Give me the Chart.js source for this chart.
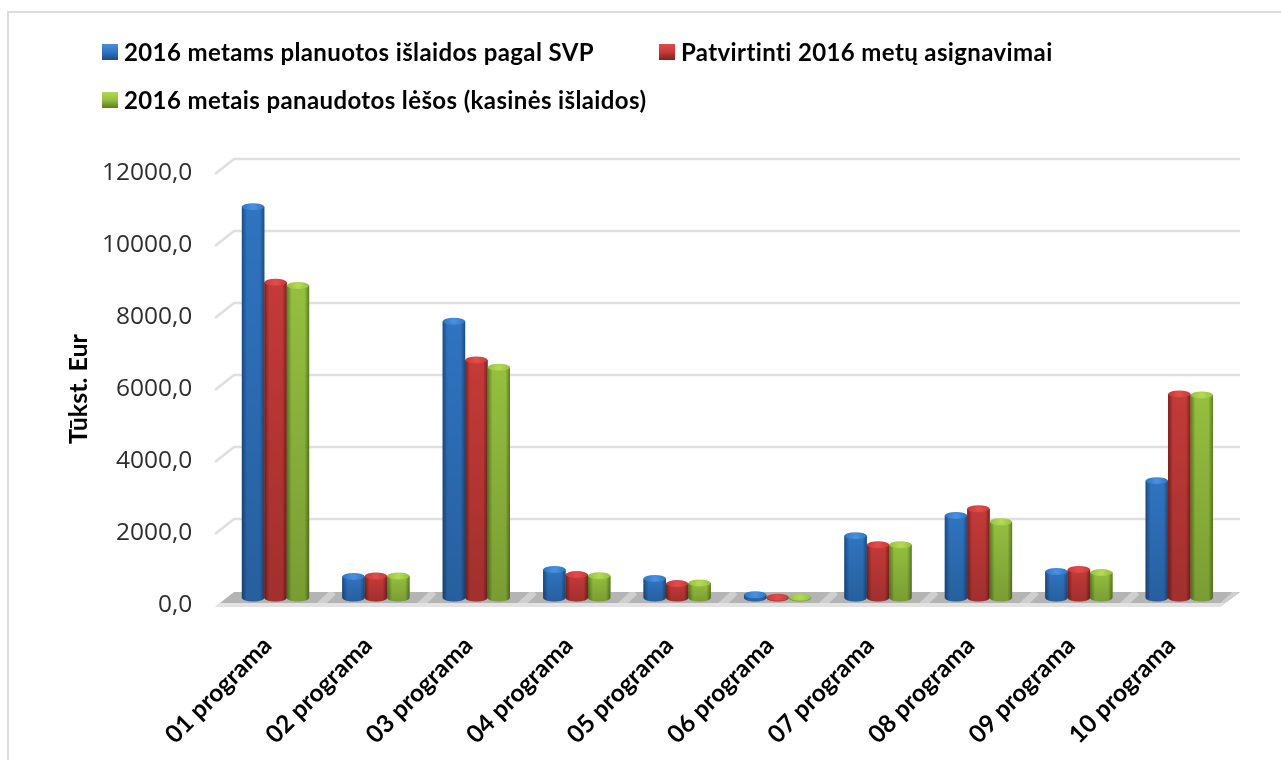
<!DOCTYPE html>
<html lang="lt">
<head>
<meta charset="UTF-8">
<title>2016 programos</title>
<script src="https://cdn.jsdelivr.net/npm/chart.js@4.4.0/dist/chart.umd.min.js"></script>
<style>
  html, body { margin: 0; background: #fff; overflow: hidden; }
  #page { position: relative; width: 1281px; height: 760px; overflow: hidden; }
  #frame { position: absolute; left: 7px; top: 11px; width: 1290px; height: 770px; border: 2.5px solid #dcdcdc; }
  #chartBox { position: absolute; left: 0; top: 0; width: 1281px; height: 760px; }
  .leg { position: absolute; font: bold 24px Lato, sans-serif; letter-spacing: .38px; color: #000; white-space: nowrap; line-height: 26px; }
  .sw { position: absolute; width: 16px; height: 16px; }
</style>
</head>
<body>
<div id="page">
  <div id="frame"></div>
  <div id="chartBox"><canvas id="chart"></canvas></div>
  <div id="legend"></div>
</div>
<script>
const categories = ['01 programa', '02 programa', '03 programa', '04 programa', '05 programa',
                    '06 programa', '07 programa', '08 programa', '09 programa', '10 programa'];
const planuotos = [10870, 600, 7690, 790, 540, 90, 1730, 2290, 735, 3260];
const patvirtinti = [8770, 610, 6610, 650, 400, 20, 1480, 2480, 790, 5670];
const panaudotos = [8680, 610, 6410, 620, 420, 20, 1480, 2120, 705, 5640];
const seriesNames = ['2016 metams planuotos išlaidos pagal SVP', 'Patvirtinti 2016 metų asignavimai',
                     '2016 metais panaudotos lėšos (kasinės išlaidos)'];
const yTicks = ['0,0', '2000,0', '4000,0', '6000,0', '8000,0', '10000,0', '12000,0'];
const yTitle = 'Tūkst. Eur';

// edge, middle, cap colours of the cylinders
const blue = ['#1d4c84', '#2f74c0', '#4a90e0'];
const red = ['#7a2220', '#c43a38', '#e24c4a'];
const green = ['#5c7c24', '#94bf3e', '#b4d954'];

// legend
const legendSpots = [[102, 52, blue], [659, 52, red], [102, 100, green]];
const legendBox = document.getElementById('legend');
seriesNames.forEach((name, i) => {
    const [x, y, c] = legendSpots[i];
    const sw = document.createElement('div');
    sw.className = 'sw';
    sw.style.left = x + 'px';
    sw.style.top = (y - 8) + 'px';
    sw.style.background = `linear-gradient(180deg, ${c[2]}, ${c[1]} 50%, ${c[0]})`;
    legendBox.appendChild(sw);
    const t = document.createElement('div');
    t.className = 'leg';
    t.style.left = (x + 22) + 'px';
    t.style.top = (y - 13) + 'px';
    t.textContent = name;
    legendBox.appendChild(t);
});

const palette = [blue, red, green];

// floor and the slanted grid lines of the 3D look
const backdrop = {
    id: 'backdrop',
    beforeDatasetsDraw(chart) {
        const { ctx, scales: { x, y } } = chart;
        const y0 = y.getPixelForValue(0);
        ctx.save();
        ctx.strokeStyle = '#e0e0e0';
        ctx.lineWidth = 2.5;
        y.ticks.forEach(t => {
            if (t.value === 0) return;
            const py = y.getPixelForValue(t.value);
            ctx.beginPath();
            ctx.moveTo(215, py + 8);
            ctx.lineTo(234, py - 7);
            ctx.lineTo(1240, py - 7);
            ctx.stroke();
        });
        // floor
        ctx.beginPath();
        ctx.moveTo(234, y0 - 6);
        ctx.lineTo(1240, y0 - 6);
        ctx.lineTo(1220, y0 + 9);
        ctx.lineTo(215, y0 + 9);
        ctx.closePath();
        ctx.fillStyle = '#b4b4b4';
        ctx.fill();
        ctx.clip();
        ctx.strokeStyle = '#cfcfcf';
        ctx.lineWidth = 7;
        for (let i = 0; i < categories.length; i++) {
            const gx = x.getPixelForValue(i) + 50;
            ctx.beginPath();
            ctx.moveTo(gx + 8, y0 - 6);
            ctx.lineTo(gx - 8, y0 + 9);
            ctx.stroke();
        }
        ctx.fillStyle = '#e2e2e2';
        ctx.fillRect(200, y0 + 5, 1050, 5);
        ctx.restore();
    },
    afterDatasetsDraw(chart) {
        const { ctx } = chart;
        chart.data.datasets.forEach((ds, d) => {
            const c = palette[d];
            chart.getDatasetMeta(d).data.forEach(bar => {
                const w = bar.width, l = bar.x - w / 2, rx = w / 2, ry = 3.5;
                const top = bar.y, base = bar.base;
                ctx.save();
                // body
                const g = ctx.createLinearGradient(l, 0, l + w, 0);
                g.addColorStop(0, c[0]);
                g.addColorStop(0.22, c[1]);
                g.addColorStop(0.8, c[1]);
                g.addColorStop(1, c[0]);
                ctx.beginPath();
                ctx.moveTo(l, top);
                ctx.lineTo(l, base);
                ctx.ellipse(bar.x, base, rx, ry, 0, Math.PI, 0, true);
                ctx.lineTo(l + w, top);
                ctx.closePath();
                ctx.fillStyle = g;
                ctx.fill();
                // gets darker towards the floor
                const v = ctx.createLinearGradient(0, top, 0, base + ry);
                v.addColorStop(0, 'rgba(0,0,0,0)');
                v.addColorStop(1, 'rgba(0,0,0,0.18)');
                ctx.fillStyle = v;
                ctx.fill();
                // cap
                const cap = ctx.createRadialGradient(bar.x, top, 1, bar.x, top, rx);
                cap.addColorStop(0, c[2]);
                cap.addColorStop(1, c[1]);
                ctx.beginPath();
                ctx.ellipse(bar.x, top, rx, ry, 0, 0, Math.PI * 2);
                ctx.fillStyle = cap;
                ctx.fill();
                ctx.restore();
            });
        });
        // axis title sits a bit below the middle of the plot
        ctx.save();
        ctx.translate(79, 389);
        ctx.rotate(-Math.PI / 2);
        ctx.font = 'bold 25px Lato, sans-serif';
        ctx.fillStyle = '#000';
        ctx.textAlign = 'center';
        ctx.textBaseline = 'middle';
        ctx.fillText(yTitle, 0, 0);
        ctx.restore();
    }
};

new Chart(document.getElementById('chart'), {
    type: 'bar',
    data: {
        labels: categories,
        datasets: [
            { label: seriesNames[0], data: planuotos, backgroundColor: blue[1] },
            { label: seriesNames[1], data: patvirtinti, backgroundColor: red[1] },
            { label: seriesNames[2], data: panaudotos, backgroundColor: green[1] }
        ]
    },
    options: {
        responsive: true,
        maintainAspectRatio: false,
        animation: false,
        layout: { padding: { top: 166, right: 51.5, left: 0, bottom: 0 } },
        datasets: { bar: { barPercentage: 1, categoryPercentage: 0.67, borderWidth: 0 } },
        plugins: { legend: { display: false }, tooltip: { enabled: false } },
        scales: {
            x: {
                grid: { display: false },
                border: { display: false },
                afterFit: s => { s.height = 162; },
                ticks: {
                    autoSkip: false, maxRotation: 45, minRotation: 45, padding: 25, labelOffset: -8,
                    color: '#000', font: { family: 'Lato', weight: 'bold', size: 24.5 }
                }
            },
            y: {
                min: 0, max: 12000,
                grid: { display: false },
                border: { display: false },
                afterFit: s => { s.width = 225.3; },
                ticks: {
                    stepSize: 2000, padding: 25, labelOffset: 7,
                    color: '#2e2e2e', font: { family: 'Open Sans', size: 24.5 },
                    callback: (v, i) => yTicks[i]
                }
            }
        }
    },
    plugins: [backdrop]
});
</script>
</body>
</html>
